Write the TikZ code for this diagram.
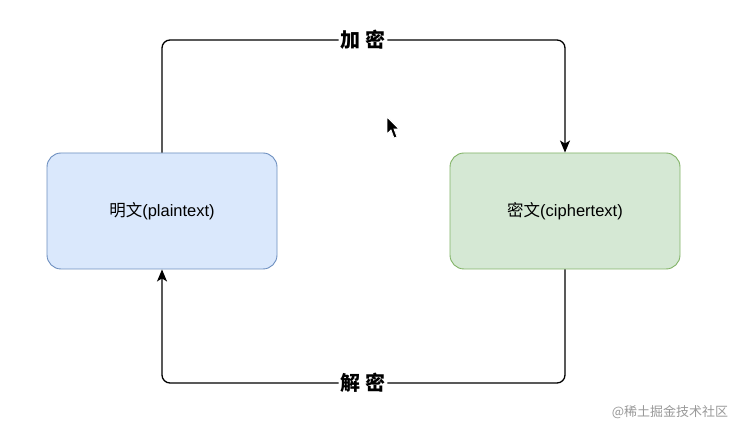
\documentclass[tikz,border=0pt]{standalone}
\usepackage{fontspec}
\setmainfont{Liberation Sans}
\newfontfamily\cjk{Noto Sans CJK SC}
\usepackage{xcolor}
\usetikzlibrary{arrows.meta,positioning}

\definecolor{plainfill}{HTML}{DAE8FC}
\definecolor{plaindraw}{HTML}{6C8EBF}
\definecolor{ciphfill}{HTML}{D5E8D4}
\definecolor{ciphdraw}{HTML}{82B366}

\tikzset{
  textbox/.style={rounded corners=14pt,minimum width=230pt,minimum height=116pt,
    line width=0.9pt,font=\fontsize{16.5}{18}\selectfont},
  steplabel/.style={fill=white,inner sep=2pt,font=\cjk\bfseries\fontsize{20}{22}\selectfont},
  flow/.style={line width=1.3pt,rounded corners=8pt,-{Stealth[length=12pt,width=10pt,inset=3pt]}}
}

\begin{document}
\begin{tikzpicture}[x=1pt,y=1pt]
  \useasboundingbox[fill=white] (0,0) rectangle (735,428);
  % the two texts
  \node[textbox,fill=plainfill,draw=plaindraw] (plain) at (162,217) {{\cjk 明文}(plaintext)};
  \node[textbox,fill=ciphfill,draw=ciphdraw] (ciph) at (565,217) {{\cjk 密文}(ciphertext)};
  % labels on the loop
  \node[steplabel] (enc) at (363,388) {加 密};
  \node[steplabel] (dec) at (363,45) {解 密};
  % encrypt: top, decrypt: bottom
  \draw[flow,-] (plain.north) |- (enc.west);
  \draw[flow] (enc.east) -| (ciph.north);
  \draw[flow,-] (ciph.south) |- (dec.east);
  \draw[flow] (dec.west) -| (plain.south);
  % mouse pointer
  \fill[black,draw=white,line width=0.8pt] (387,311) -- (387,294) -- (391,298) -- (394,290)
    -- (397,291) -- (394,299) -- (399,299) -- cycle;
  % watermark
  \node[text=black!40,font=\cjk\fontsize{13}{15}\selectfont] (mark) at (670,16) {@稀土掘金技术社区};
\end{tikzpicture}
\end{document}
